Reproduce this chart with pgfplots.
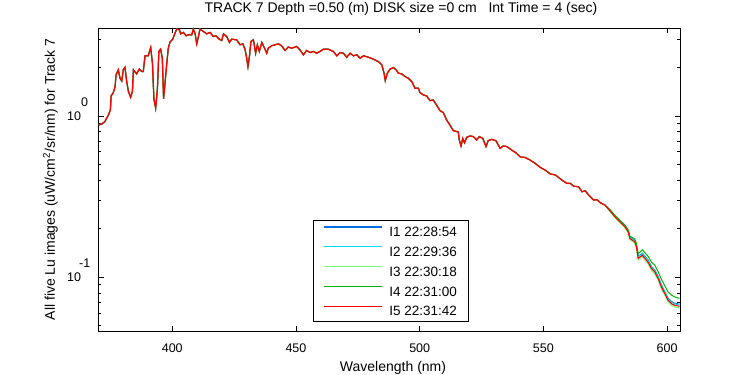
\documentclass[border=0pt]{standalone}
\usepackage{fontspec}
\setmainfont{Liberation Sans}
\usepackage{pgfplots}
\usepackage{pgfplotstable}
\pgfplotsset{compat=1.18}
\definecolor{cI}{RGB}{0,110,230}
\definecolor{cII}{RGB}{0,220,255}
\definecolor{cIII}{RGB}{120,255,120}
\definecolor{cIV}{RGB}{0,180,0}
\definecolor{cV}{RGB}{255,0,0}
\pgfplotstableread{
x y
370.3 0.880
371.5 0.891
372.8 0.923
374.2 1.014
375.0 1.089
375.3 1.330
376.2 1.396
376.9 1.521
377.3 1.799
378.2 1.932
378.9 1.714
379.6 1.648
380.2 1.932
380.9 2.004
381.6 1.633
382.3 1.416
383.2 1.306
383.9 1.416
384.3 1.932
385.6 1.824
386.7 1.950
387.7 1.884
388.3 1.884
389.0 2.360
390.3 2.360
391.3 2.655
392.0 2.123
392.6 1.271
393.3 1.117
394.0 1.466
394.6 2.512
395.3 2.594
396.0 2.280
396.5 1.276
397.2 1.675
397.8 2.123
398.4 2.630
399.1 2.871
400.2 2.992
401.1 3.258
401.8 3.451
402.9 3.420
403.4 3.228
404.5 3.296
405.6 3.141
406.5 3.184
407.9 3.184
408.5 3.451
409.2 3.258
409.9 2.799
410.6 3.112
411.2 3.451
412.6 3.342
413.9 3.228
415.3 3.296
416.6 3.112
417.7 3.141
419.0 2.992
420.0 2.938
420.7 3.228
422.0 3.112
423.1 2.858
424.0 2.992
426.0 2.965
427.4 2.761
428.5 2.799
429.4 2.594
430.1 2.280
430.6 2.023
431.2 2.339
431.8 2.897
432.8 2.965
433.7 2.449
434.4 2.761
435.2 2.512
436.2 2.858
437.1 2.673
438.2 2.449
438.8 2.630
440.2 2.723
441.5 2.761
442.9 2.799
444.2 2.723
445.6 2.547
446.9 2.673
448.3 2.630
450.3 2.698
451.6 2.570
453.0 2.393
454.3 2.547
455.7 2.472
457.0 2.512
458.4 2.449
459.7 2.512
461.1 2.594
463.1 2.594
465.1 2.512
466.5 2.360
467.8 2.472
469.2 2.449
470.5 2.312
471.9 2.449
473.2 2.360
474.6 2.393
475.9 2.280
477.3 2.360
479.3 2.312
481.3 2.249
483.3 2.173
484.7 2.075
485.6 1.841
486.1 1.656
486.9 1.841
488.0 1.950
489.4 1.995
490.5 1.932
491.4 1.841
492.7 1.824
494.1 1.754
495.4 1.714
496.8 1.633
498.1 1.486
499.5 1.486
500.1 1.396
501.5 1.349
502.8 1.330
504.2 1.245
505.5 1.256
506.8 1.169
508.2 1.079
509.5 1.050
510.9 0.944
512.2 0.879
513.6 0.811
515.6 0.796
516.0 0.710
516.7 0.652
517.4 0.726
518.1 0.682
519.0 0.736
520.3 0.752
521.7 0.745
523.0 0.710
524.1 0.745
525.5 0.726
526.8 0.646
527.7 0.703
529.1 0.716
530.8 0.703
532.5 0.630
533.8 0.652
535.2 0.646
537.2 0.615
539.2 0.586
540.6 0.558
542.6 0.553
544.6 0.533
546.7 0.508
548.7 0.480
550.7 0.462
552.8 0.437
554.8 0.431
556.1 0.416
557.5 0.400
559.5 0.382
560.9 0.382
562.2 0.367
564.2 0.364
565.6 0.339
566.9 0.344
568.3 0.323
570.3 0.301
571.6 0.303
573.0 0.290
574.9 0.280
}\common
\pgfplotstableread{
x y1 y2 y3 y4 y5
574.9 0.280 0.280 0.280 0.280 0.280
576.9 0.261 0.261 0.255 0.263 0.258
578.9 0.240 0.239 0.234 0.242 0.237
580.9 0.224 0.223 0.218 0.226 0.221
582.9 0.209 0.208 0.203 0.211 0.206
584.3 0.194 0.193 0.188 0.196 0.191
584.9 0.178 0.177 0.171 0.180 0.174
586.9 0.170 0.169 0.163 0.173 0.166
587.6 0.158 0.157 0.151 0.162 0.154
588.3 0.135 0.134 0.128 0.140 0.131
589.2 0.138 0.137 0.131 0.144 0.134
590.0 0.141 0.140 0.134 0.148 0.137
591.0 0.135 0.134 0.128 0.142 0.131
592.3 0.128 0.127 0.121 0.135 0.124
593.7 0.116 0.115 0.110 0.124 0.113
595.0 0.111 0.110 0.105 0.119 0.108
596.4 0.101 0.100 0.0955 0.108 0.098
597.7 0.0896 0.0887 0.0848 0.097 0.087
599.1 0.0814 0.0806 0.0770 0.0885 0.079
600.4 0.0742 0.0734 0.0702 0.0810 0.072
601.8 0.0707 0.0700 0.0669 0.0775 0.0686
603.1 0.0690 0.0683 0.0653 0.0755 0.0670
605.0 0.0681 0.0674 0.0645 0.0740 0.0661
}\tail
\begin{document}
\begin{tikzpicture}
\useasboundingbox (0,0) rectangle (750pt,375pt);
\begin{axis}[
  at={(98pt,44pt)}, anchor=south west,
  scale only axis, width=582pt, height=303pt,
  ymode=log,
  xmin=370, xmax=605.2,
  ymin=0.04645, ymax=3.51,
  xtick={400,450,500,550,600},
  ytick={0.1,1},
  yticklabels={,},
  minor ytick={0.05,0.06,0.07,0.08,0.09,0.2,0.3,0.4,0.5,0.6,0.7,0.8,0.9,2,3},
  tick align=inside,
  major tick length=5.5pt,
  minor tick length=3pt,
  every tick/.style={black, line width=0.8pt},
  axis line style={black, line width=0.8pt},
  /pgf/number format/assume math mode=true,
  tick label style={font=\fontsize{12.5}{12.5}\selectfont},
  xticklabel style={anchor=base, yshift=-21.5pt},
  title={TRACK 7 Depth =0.50 (m) DISK size =0 cm\ \ \ Int Time = 4 (sec)},
  title style={at={(0.5206,1.032)}, anchor=base, inner sep=0pt, font=\fontsize{14}{14}\selectfont},
  xlabel={Wavelength (nm)},
  xlabel style={at={(0.5069,-0.134)}, anchor=base, inner sep=0pt, font=\fontsize{14}{14}\selectfont},
  ylabel={All five Lu images (uW/cm\textsuperscript{2}/sr/nm) for Track 7},
  ylabel style={at={(-0.0739,0.5)}, anchor=base, inner sep=0pt, font=\fontsize{14}{14}\selectfont},
  legend style={at={(0.3686,0.3663)}, anchor=north west, draw=black, line width=0.8pt,
    inner xsep=11pt, inner ysep=6pt, row sep=9.8pt, column sep=6.4pt,
    font=\fontsize{13.5}{13.5}\selectfont,
    nodes={inner sep=0pt, text height=10pt, text depth=0pt, anchor=west}},
  legend cell align=left,
  legend image code/.code={\draw[#1, line width=1.1pt] (0pt,4.5pt) -- (58pt,4.5pt);},
  every axis plot/.append style={line width=1pt},
  clip mode=individual,
]
\addplot[cI] table[x=x,y=y]{\common};
\addlegendentry{I1 22:28:54}
\addplot[cI, forget plot] table[x=x,y=y1]{\tail};
\addplot[cII] table[x=x,y=y]{\common};
\addlegendentry{I2 22:29:36}
\addplot[cII, forget plot] table[x=x,y=y2]{\tail};
\addplot[cIII] table[x=x,y=y]{\common};
\addlegendentry{I3 22:30:18}
\addplot[cIII, forget plot] table[x=x,y=y3]{\tail};
\addplot[cIV] table[x=x,y=y]{\common};
\addlegendentry{I4 22:31:00}
\addplot[cIV, forget plot] table[x=x,y=y4]{\tail};
\addplot[cV, line width=1.3pt] table[x=x,y=y]{\common};
\addlegendentry{I5 22:31:42}
\addplot[cV, line width=1.1pt, forget plot] table[x=x,y=y5]{\tail};
\end{axis}
\begin{scope}[font=\fontsize{12.5}{12.5}\selectfont, inner sep=0pt]
\node[anchor=base west] at (67pt,254pt) {10};
\node[anchor=base west] at (81pt,268pt) {0};
\node[anchor=base west] at (67pt,93pt) {10};
\node[anchor=base west] at (79pt,107pt) {-1};
\end{scope}
\end{tikzpicture}
\end{document}
